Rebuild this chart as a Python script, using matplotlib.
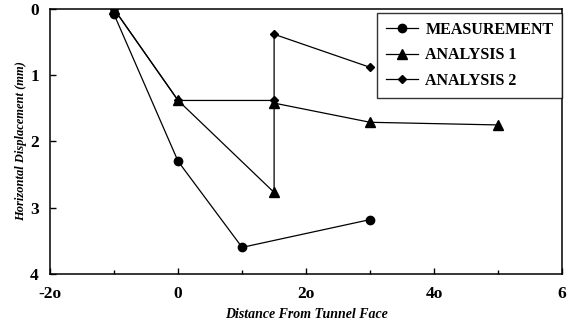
import matplotlib
matplotlib.use("Agg")
import matplotlib.pyplot as plt

# Distance from tunnel face vs horizontal displacement (mm)
meas_x = [-10, 0, 10, 30]
meas_y = [0.08, 2.3, 3.6, 3.18]

an1_x = [-10, 0, 15, 15, 30, 50]
an1_y = [0.0, 1.38, 2.77, 1.42, 1.71, 1.75]

an2_x = [-10, 0, 15, 15, 30]
an2_y = [0.0, 1.38, 1.38, 0.38, 0.88]

xticks = [-20, 0, 20, 40, 60]
xtick_labels = ["-2o", "0", "2o", "4o", "6"]
yticks = [0, 1, 2, 3, 4]

plt.rcParams["font.family"] = ["Liberation Serif", "DejaVu Serif"]

fig = plt.figure(figsize=(5.69, 3.26), dpi=100)
ax = fig.add_axes([0.088, 0.160, 0.900, 0.812])

ax.plot(meas_x, meas_y, color="black", lw=0.9, marker="o", ms=6, label="MEASUREMENT")
ax.plot(an1_x, an1_y, color="black", lw=0.9, marker="^", ms=6.5, label="ANALYSIS 1")
ax.plot(an2_x, an2_y, color="black", lw=0.9, marker="D", ms=4.5, label="ANALYSIS 2")

ax.set_xlim(-20, 60)
ax.set_ylim(4, 0)
ax.set_xticks(xticks)
ax.set_xticklabels(xtick_labels)
ax.set_xticks(range(-20, 61, 10), minor=True)
ax.set_yticks(yticks)
ax.tick_params(axis="both", which="both", direction="in", labelsize=12.5, width=1)
ax.tick_params(axis="x", pad=9)
ax.tick_params(axis="y", pad=8)
ax.tick_params(which="major", length=4)
ax.tick_params(which="minor", length=3)
for lab in ax.get_xticklabels() + ax.get_yticklabels():
    lab.set_fontweight("bold")
for s in ax.spines.values():
    s.set_linewidth(1.1)

ax.set_xlabel("Distance From Tunnel Face", fontsize=10, style="italic",
              fontweight="bold", labelpad=4)
ax.set_ylabel("Horizontal Displacement (mm)", fontsize=9, style="italic",
              fontweight="bold", labelpad=2)

leg = ax.legend(loc="upper right", bbox_to_anchor=(1.0, 0.985), borderaxespad=0,
                fontsize=11.5, frameon=True, fancybox=False, edgecolor="black",
                handlelength=2.0, borderpad=0.55, labelspacing=0.6,
                handletextpad=0.45)
leg.get_frame().set_linewidth(1)
for t in leg.get_texts():
    t.set_fontweight("bold")

fig.savefig("out.png", dpi=100)
